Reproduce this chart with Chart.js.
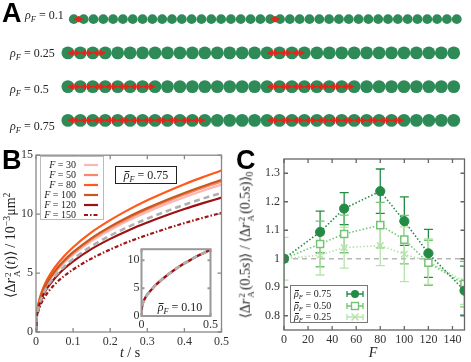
<!DOCTYPE html>
<html>
<head>
<meta charset="utf-8">
<script src="https://cdn.jsdelivr.net/npm/chart.js@4.4.1/dist/chart.umd.min.js"></script>
<style>
  html, body { margin: 0; padding: 0; background: #fff; }
  #fig { position: relative; width: 471px; height: 362px; overflow: hidden; font-family: "Liberation Serif", serif; color: #222; }
  #fig canvas { position: absolute; }
  .txt { position: absolute; white-space: nowrap; line-height: 1; }
  .mid { transform: translate(0, -50%); }
  .ctr { transform: translate(-50%, -50%); }
  .rot { transform: translate(-50%, -50%) rotate(-90deg); }
  .panel { position: absolute; font-family: "Liberation Sans", Arial, sans-serif; font-weight: bold; font-size: 27px; line-height: 1; color: #000; }
  sub, sup { font-size: 70%; line-height: 0; }
  sub { vertical-align: -0.3em; }
  sup { vertical-align: 0.5em; }
  .ss { display: inline-flex; flex-direction: column; font-size: 66%; line-height: 1; vertical-align: 0.5em; margin: 0 1px; }
  .bar { position: relative; }
  .bar::after { content: ''; position: absolute; left: 1px; right: 0; top: 0.22em; border-top: 1px solid currentColor; }
  .box { position: absolute; background: #fff; }
  .lrow { position: absolute; left: 0; right: 0; height: 10px; }
  .lrow span.txt, .lrow svg { position: absolute; }
</style>
</head>
<body>
<div id="fig">
  <canvas id="chainCanvas" width="471" height="145" style="left:0;top:0"></canvas>
  <canvas id="msdCanvas" width="232" height="217" style="left:0;top:145px"></canvas>
  <canvas id="insetCanvas" width="100" height="96" style="left:120px;top:240px"></canvas>
  <canvas id="ratioCanvas" width="239" height="217" style="left:232px;top:145px"></canvas>

  <div class="panel" style="left:2px;top:0">A</div>
  <div class="panel" style="left:2px;top:147px">B</div>
  <div class="panel" style="left:236px;top:147px">C</div>

  <div id="rhoLabels"></div>

  <div class="txt rot" style="left:13px;top:245px;font-size:14px">⟨Δ<i>r</i><span class="ss"><span>2</span><span>A</span></span>(<i>t</i>)⟩ / 10<sup>−3</sup>μm<sup>2</sup></div>
  <div class="txt ctr" style="left:130px;top:353px;font-size:14px"><i>t</i> / s</div>
  <div class="box" style="left:115px;top:166px;width:60px;height:16px;border:1px solid #222">
    <div class="txt ctr" style="left:30px;top:8px;font-size:12px"><i class="bar">ρ</i><sub><i>F</i></sub> = 0.75</div>
  </div>
  <div class="txt ctr" style="left:180px;top:307px;font-size:12px"><i class="bar">ρ</i><sub><i>F</i></sub> = 0.10</div>
  <div id="msdLegend" class="box" style="left:40px;top:156px;width:62px;height:62px;border:1px solid #bbb"></div>

  <div class="txt rot" style="left:247px;top:245px;font-size:14px">⟨Δ<i>r</i><span class="ss"><span>2</span><span>A</span></span>(0.5<i>s</i>)⟩ / ⟨Δ<i>r</i><span class="ss"><span>2</span><span>A</span></span>(0.5<i>s</i>)⟩<sub>0</sub></div>
  <div class="txt ctr" style="left:373px;top:353px;font-size:14px"><i>F</i></div>
  <div id="ratioLegend" class="box" style="left:290px;top:285px;width:76px;height:36px;border:1.5px solid #777"></div>
</div>

<script>
// ---- panel A: chains ----
const chainSizes = [40, 32, 32, 32];
const activePerHalf = [2, 4, 8, 12];
const rhoValues = ['0.1', '0.25', '0.5', '0.75'];

// ---- panel B: MSD curves ----
const tGrid = [0, 0.002, 0.005, 0.01, 0.02, 0.03, 0.05, 0.075, 0.1, 0.15, 0.2, 0.25, 0.3, 0.35, 0.4, 0.45, 0.5];
const msdF30  = [0, 1.38, 1.98, 2.61, 3.45, 4.06, 4.98, 5.85, 6.56, 7.73, 8.66, 9.48, 10.19, 10.84, 11.44, 11.99, 12.5];
const msdF50  = [0, 1.40, 2.01, 2.66, 3.52, 4.14, 5.07, 5.97, 6.69, 7.88, 8.84, 9.66, 10.39, 11.05, 11.67, 12.23, 12.75];
const msdF80  = [0, 1.51, 2.16, 2.86, 3.78, 4.45, 5.45, 6.41, 7.19, 8.47, 9.49, 10.38, 11.17, 11.88, 12.54, 13.14, 13.7];
const msdF100 = [0, 1.42, 2.04, 2.70, 3.56, 4.19, 5.13, 6.04, 6.77, 7.97, 8.94, 9.78, 10.51, 11.18, 11.80, 12.37, 12.9];
const msdF120 = [0, 1.25, 1.80, 2.38, 3.15, 3.71, 4.54, 5.34, 5.99, 7.05, 7.90, 8.64, 9.29, 9.88, 10.43, 10.93, 11.4];
const msdF150 = [0, 1.11, 1.60, 2.11, 2.79, 3.28, 4.02, 4.73, 5.30, 6.24, 7.00, 7.66, 8.23, 8.76, 9.24, 9.69, 10.1];
const msdFree = [0, 1.30, 1.86, 2.47, 3.26, 3.84, 4.70, 5.52, 6.20, 7.29, 8.18, 8.94, 9.62, 10.23, 10.80, 11.32, 11.8];
const fLabels = ['30', '50', '80', '100', '120', '150'];
const msdTicksX = [0, 0.1, 0.2, 0.3, 0.4, 0.5];
const msdTicksY = [0, 5, 10, 15];

// inset, rho = 0.10
const insetFree = [0, 1.2, 1.8, 2.3, 2.9, 3.4, 4.1, 4.8, 5.5, 6.6, 7.6, 8.5, 9.3, 10.0, 10.7, 11.3, 11.9];
const insetF    = [0, 1.2, 1.8, 2.3, 2.9, 3.4, 4.1, 4.8, 5.5, 6.6, 7.6, 8.5, 9.3, 10.0, 10.7, 11.3, 11.9];
const insetTicksX = [0, 0.5];
const insetTicksY = [0, 5, 10];

// ---- panel C: ratio vs F ----
const fValues  = [0, 30, 50, 80, 100, 120, 150];
const ratio075 = [1.0, 1.094, 1.176, 1.237, 1.132, 1.019, 0.888];
const err075   = [0, 0.073, 0.056, 0.078, 0.085, 0.084, 0.086];
const ratio050 = [1.0, 1.052, 1.087, 1.118, 1.067, 0.986, 0.911];
const err050   = [0, 0.08, 0.066, 0.08, 0.085, 0.079, 0.08];
const ratio025 = [1.0, 1.013, 1.039, 1.046, 1.016, 0.99, 0.92];
const err025   = [0.075, 0.07, 0.072, 0.07, 0.096, 0.08, 0.08];
const rhoBarLabels = ['0.75', '0.50', '0.25'];
const ratioTicksX = [0, 20, 40, 60, 80, 100, 120, 140];
const ratioTicksY = [0.8, 0.9, 1, 1.1, 1.2, 1.3];

// ---- styles ----
const circleColor = '#2e8b57';
const arrowColor = '#e3261b';
const fColors = ['#fbb6b6', '#f98868', '#ff5a1c', '#c9581d', '#9c1212', '#a31414'];
const fDashes = [[], [], [], [], [], [4, 2, 1.5, 2]];
const greens = ['#238b45', '#74c476', '#b5e3a9'];

Chart.defaults.font.family = '"Liberation Serif", serif';
Chart.defaults.font.size = 12;
Chart.defaults.color = '#333';
Chart.defaults.animation = false;
Chart.defaults.events = [];
Chart.defaults.plugins.legend.display = false;
Chart.defaults.plugins.tooltip.enabled = false;

const toXY = (xs, ys) => xs.map((x, i) => ({ x, y: ys[i] }));

// box with inward ticks on all four sides, optional white fill
const framePlugin = {
  id: 'frame',
  beforeDatasetsDraw(chart, args, opts) {
    if (!opts.fill) return;
    const { ctx, chartArea: a } = chart;
    ctx.save();
    ctx.fillStyle = opts.fill;
    ctx.fillRect(a.left, a.top, a.width, a.height);
    ctx.restore();
  },
  afterDatasetsDraw(chart, args, opts) {
    const { ctx, chartArea: a, scales } = chart;
    const len = opts.tickLength;
    ctx.save();
    ctx.strokeStyle = opts.color;
    ctx.lineWidth = opts.width;
    ctx.beginPath();
    scales.x.ticks.forEach(t => {
      const px = scales.x.getPixelForValue(t.value);
      ctx.moveTo(px, a.bottom); ctx.lineTo(px, a.bottom - len);
      ctx.moveTo(px, a.top); ctx.lineTo(px, a.top + len);
    });
    scales.y.ticks.forEach(t => {
      const py = scales.y.getPixelForValue(t.value);
      ctx.moveTo(a.left, py); ctx.lineTo(a.left + len, py);
      ctx.moveTo(a.right, py); ctx.lineTo(a.right - len, py);
    });
    ctx.stroke();
    ctx.strokeRect(a.left, a.top, a.width, a.height);
    ctx.restore();
  }
};

// vertical error bars read from dataset.errors
const errorBarPlugin = {
  id: 'errorBars',
  beforeDatasetsDraw(chart) {
    const { ctx, chartArea: a, scales: { y } } = chart;
    ctx.save();
    ctx.beginPath();
    ctx.rect(a.left, a.top, a.width, a.height);
    ctx.clip();
    chart.data.datasets.forEach((ds, i) => {
      if (!ds.errors) return;
      const meta = chart.getDatasetMeta(i);
      ctx.strokeStyle = ds.borderColor;
      ctx.lineWidth = 1.3;
      ctx.beginPath();
      meta.data.forEach((pt, j) => {
        const e = ds.errors[j];
        if (!e) return;
        const v = ds.data[j].y;
        const top = y.getPixelForValue(v + e), bot = y.getPixelForValue(v - e);
        ctx.moveTo(pt.x, top); ctx.lineTo(pt.x, bot);
        ctx.moveTo(pt.x - 4.5, top); ctx.lineTo(pt.x + 4.5, top);
        ctx.moveTo(pt.x - 4.5, bot); ctx.lineTo(pt.x + 4.5, bot);
      });
      ctx.stroke();
    });
    ctx.restore();
  }
};

function fixedAxis(min, max, ticks, size, isY, padding, fmt) {
  return {
    type: 'linear', min, max,
    grid: { display: false, drawTicks: false },
    border: { display: false },
    ticks: { padding, callback: fmt || (v => String(v)) },
    afterBuildTicks: s => { s.ticks = ticks.map(v => ({ value: v })); },
    afterFit: s => { if (isY) s.width = size; else s.height = size; }
  };
}

// ---- A ----
document.getElementById('rhoLabels').innerHTML = rhoValues.map((r, i) =>
  `<div class="txt mid" style="left:${i === 0 ? 25 : 10}px;top:${[15, 53, 89, 126][i]}px;font-size:12px"><i>ρ</i><sub><i>F</i></sub> = ${r}</div>`
).join('');

function circles(r) {
  return Array.from({ length: chainSizes[r] }, (_, i) => ({ x: i, y: r }));
}
function arrowRuns(r) {
  const n = chainSizes[r], k = activePerHalf[r], pts = [];
  [0, n / 2].forEach(s => {
    for (let i = 0; i < k; i++) pts.push({ x: s + i, y: r });
    pts.push({ x: null, y: null });
  });
  return pts;
}
function heads(r, side) {
  const n = chainSizes[r], k = activePerHalf[r], off = r === 0 ? 0.38 : 0.3, pts = [];
  [0, n / 2].forEach(s => {
    for (let i = 0; i < k - 1; i++) pts.push({ x: side > 0 ? s + i + 1 - off : s + i + off, y: r });
  });
  return pts;
}

const chainDatasets = [];
[[0], [1, 2, 3]].forEach(rows => {
  const axis = rows[0] === 0 ? 'xs' : 'x';
  chainDatasets.push({ data: rows.flatMap(circles), xAxisID: axis, pointRadius: rows[0] === 0 ? 4.9 : 6.4,
    backgroundColor: circleColor, borderWidth: 0, order: 3, clip: false });
  chainDatasets.push({ data: rows.flatMap(arrowRuns), xAxisID: axis, showLine: true, spanGaps: false,
    borderColor: arrowColor, borderWidth: 1.2, pointRadius: 0, order: 2, clip: false });
  [1, -1].forEach(side => chainDatasets.push({ data: rows.flatMap(r => heads(r, side)), xAxisID: axis,
    pointStyle: 'triangle', pointRotation: 90 * side, pointRadius: 3.8,
    backgroundColor: arrowColor, borderColor: arrowColor, borderWidth: 0, order: 1, clip: false }));
});

new Chart(document.getElementById('chainCanvas'), {
  type: 'scatter',
  data: { datasets: chainDatasets },
  options: {
    responsive: false,
    layout: { padding: { left: 60, right: 1, top: 0, bottom: 0 } },
    scales: {
      x: { type: 'linear', display: false, min: -0.634, max: 31.872 },
      xs: { type: 'linear', axis: 'x', position: 'bottom', display: false, min: -1.407, max: 39.8 },
      y: { type: 'linear', display: false, min: -0.378, max: 3.541, reverse: true }
    }
  }
});

// ---- B ----
const msdSeries = [msdF30, msdF50, msdF80, msdF100, msdF120, msdF150];
const msdDatasets = msdSeries.map((s, i) => ({
  data: toXY(tGrid, s), borderColor: fColors[i], borderWidth: 2.2, borderDash: fDashes[i],
  pointRadius: 0, cubicInterpolationMode: 'monotone', order: 6 - i
}));
msdDatasets.push({ data: toXY(tGrid, msdFree), borderColor: '#b0b0b0', borderWidth: 2.6, borderDash: [6, 4],
  pointRadius: 0, cubicInterpolationMode: 'monotone', order: 0 });

new Chart(document.getElementById('msdCanvas'), {
  type: 'scatter',
  data: { datasets: msdDatasets.map(d => ({ ...d, showLine: true })) },
  options: {
    responsive: false,
    layout: { padding: { top: 10, right: 7, left: 0, bottom: 0 } },
    scales: {
      x: fixedAxis(0, 0.5, msdTicksX, 30, false, 3),
      y: fixedAxis(0, 15, msdTicksY, 36, true, 3)
    },
    plugins: { frame: { color: '#888', width: 1.3, tickLength: 4 } }
  },
  plugins: [framePlugin]
});

new Chart(document.getElementById('insetCanvas'), {
  type: 'scatter',
  data: { datasets: [
    { data: toXY(tGrid, insetFree), showLine: true, borderColor: '#b0b0b0', borderWidth: 2.6, borderDash: [6, 4],
      pointRadius: 0, cubicInterpolationMode: 'monotone', order: 0 },
    { data: toXY(tGrid, insetF), showLine: true, borderColor: '#a01010', borderWidth: 2.4,
      pointRadius: 0, cubicInterpolationMode: 'monotone', order: 1 }
  ] },
  options: {
    responsive: false,
    layout: { padding: { top: 6, right: 8.5, left: 0, bottom: 0 } },
    scales: {
      x: fixedAxis(0, 0.5, insetTicksX, 20, false, 2),
      y: fixedAxis(0, 12, insetTicksY, 21.5, true, 2)
    },
    plugins: { frame: { color: '#999', width: 2, tickLength: 3, fill: '#fff' } }
  },
  plugins: [framePlugin]
});

document.getElementById('msdLegend').innerHTML = fLabels.map((f, i) =>
  `<div class="lrow" style="top:${3 + i * 10}px">
     <span class="txt" style="right:27px;top:5px;font-size:10px;transform:translateY(-50%)"><i>F</i> = ${f}</span>
     <svg width="14" height="10" style="left:43px;top:0"><line x1="0" y1="5" x2="14" y2="5" stroke="${fColors[i]}" stroke-width="2.2" stroke-dasharray="${fDashes[i].join(' ') || 'none'}"/></svg>
   </div>`
).join('');

// ---- C ----
const ratioSets = [
  { vals: ratio075, errs: err075, style: 'circle', fill: greens[0] },
  { vals: ratio050, errs: err050, style: 'rect', fill: '#fff' },
  { vals: ratio025, errs: err025, style: 'crossRot', fill: greens[2] }
];
const ratioDatasets = ratioSets.map((s, i) => ({
  data: toXY(fValues, s.vals), errors: s.errs, showLine: true,
  borderColor: greens[i], backgroundColor: s.fill, borderWidth: 1.6, borderDash: [1.5, 2],
  pointStyle: s.style, pointRadius: i === 1 ? 5 : 4.6, pointBorderWidth: i === 0 ? 1 : 1.5,
  pointBackgroundColor: s.fill, pointBorderColor: greens[i], clip: 0, order: 1 + i
}));
ratioDatasets.push({ data: [{ x: 0, y: 1 }, { x: 150, y: 1 }], showLine: true, borderColor: '#b8b8b8',
  borderWidth: 1.3, borderDash: [5, 4], pointRadius: 0, order: 10 });

new Chart(document.getElementById('ratioCanvas'), {
  type: 'scatter',
  data: { datasets: ratioDatasets },
  options: {
    responsive: false,
    layout: { padding: { top: 14, right: 1, left: 0, bottom: 0 } },
    scales: {
      x: fixedAxis(0, 150, ratioTicksX, 32, false, 3),
      y: fixedAxis(0.75, 1.35, ratioTicksY, 52, true, 4)
    },
    plugins: { frame: { color: '#666', width: 1.3, tickLength: 4 } }
  },
  plugins: [framePlugin, errorBarPlugin]
});

function markerSvg(i) {
  const c = greens[i];
  let m = '';
  if (i === 0) m = `<circle cx="9" cy="5" r="4" fill="${c}"/>`;
  if (i === 1) m = `<rect x="5.5" y="1.5" width="7" height="7" fill="#fff" stroke="${c}" stroke-width="1.4"/>`;
  if (i === 2) m = `<path d="M5.5 1.5L12.5 8.5M12.5 1.5L5.5 8.5" stroke="${c}" stroke-width="1.5"/>`;
  return `<svg width="18" height="10" style="left:55px;top:0">
    <path d="M1 5H17M1 2V8M17 2V8" stroke="${c}" stroke-width="1.3" fill="none"/>${m}</svg>`;
}
document.getElementById('ratioLegend').innerHTML = rhoBarLabels.map((r, i) =>
  `<div class="lrow" style="top:${3 + i * 11.5}px">
     <span class="txt" style="left:3px;top:5px;font-size:10px;transform:translateY(-50%)"><i class="bar">ρ</i><sub><i>F</i></sub> = ${r}</span>
     ${markerSvg(i)}
   </div>`
).join('');
</script>
</body>
</html>
